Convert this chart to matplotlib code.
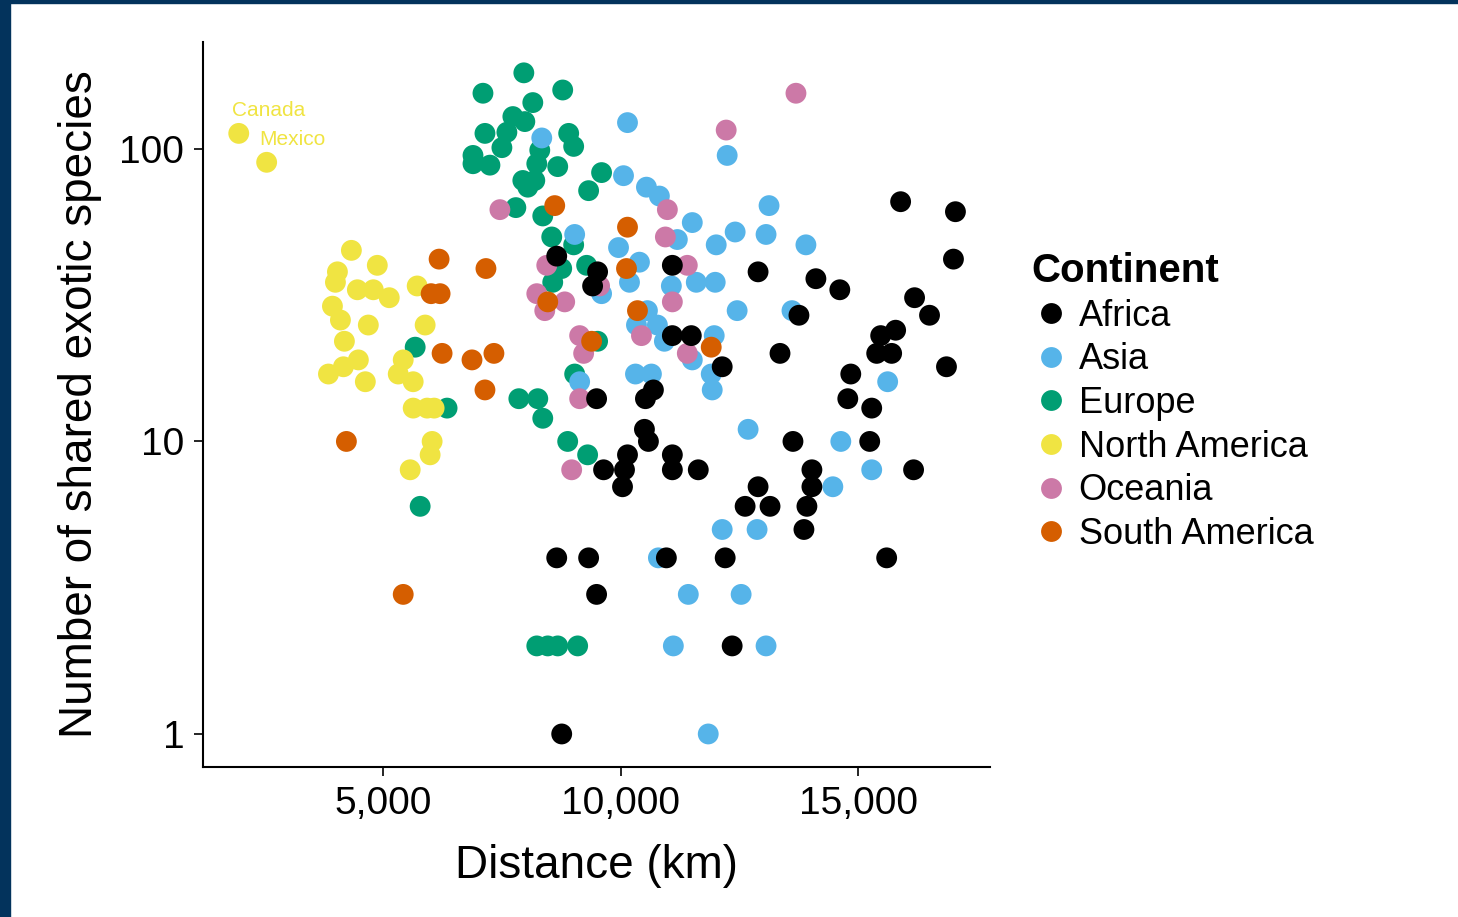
import matplotlib
matplotlib.use("Agg")
import matplotlib.pyplot as plt
from matplotlib.lines import Line2D
from matplotlib.patches import Rectangle
from matplotlib.ticker import FuncFormatter, NullLocator

plt.rcParams['font.family'] = ['Liberation Sans', 'DejaVu Sans']

# Distance (km) and number of shared exotic species, by continent
africa_km = [8652, 9513, 9408, 11088, 12894, 14112, 14616, 15897, 17052, 17010,
             16191, 16506, 13755, 15792, 15477, 15393, 15708, 13356, 16863, 12138,
             11487, 11088, 14847, 14784, 15288, 9492, 10521, 10689, 10500, 10584,
             10143, 11088, 13629, 15246, 9639, 10080, 10038, 11088, 11634, 14028,
             14028, 16170, 12894, 12621, 13146, 13923, 13860, 8652, 9324, 10962,
             12201, 15603, 9492, 12348, 8757]
africa_n = [43, 38, 34, 40, 38, 36, 33, 66, 61, 42,
            31, 27, 27, 24, 23, 20, 20, 20, 18, 18,
            23, 23, 17, 14, 13, 14, 14, 15, 11, 10,
            9, 9, 10, 10, 8, 8, 7, 8, 8, 8,
            7, 8, 7, 6, 6, 6, 5, 4, 4, 4,
            4, 4, 3, 2, 1]

asia_km = [10143, 12243, 8337, 10059, 10542, 10815, 11508, 13125, 12411, 13062,
           13902, 12012, 11193, 9954, 10395, 9030, 10185, 11067, 11592, 11991,
           12453, 13608, 10563, 10332, 10773, 10920, 11970, 11508, 11907, 11928,
           10311, 10647, 9135, 12684, 14637, 9597, 15624, 15288, 14469, 12138,
           12873, 10794, 11424, 12537, 11109, 13062, 11844]
asia_n = [123, 95, 109, 81, 74, 69, 56, 64, 52, 51,
          47, 47, 49, 46, 41, 51, 35, 34, 35, 35,
          28, 28, 28, 25, 25, 22, 23, 19, 17, 15,
          17, 17, 16, 11, 10, 32, 16, 8, 7, 5,
          5, 4, 3, 3, 2, 2, 1]

europe_km = [7959, 7098, 8778, 8148, 7728, 7980, 7140, 8904, 9009, 7497,
             6888, 8295, 7245, 6888, 8232, 8673, 7938, 8190, 8043, 9324,
             9597, 7791, 8358, 8547, 9009, 9282, 8757, 8568, 9513, 9030,
             7854, 8253, 8358, 8883, 9303, 5670, 6342, 5775, 8232, 8463,
             8673, 9093, 7602]
europe_n = [182, 155, 159, 144, 129, 124, 113, 113, 102, 101,
            95, 99, 88, 89, 89, 87, 78, 78, 74, 72,
            83, 63, 59, 50, 47, 40, 39, 35, 22, 17,
            14, 14, 12, 10, 9, 21, 13, 6, 2, 2,
            2, 2, 114]

namerica_km = [1953, 2541, 4326, 4872, 4032, 3990, 4452, 4788, 5124, 5712,
               3927, 4095, 4683, 5880, 4179, 4473, 5418, 4158, 3843, 4620,
               5313, 5628, 5628, 5922, 6069, 6027, 5985, 5565]
namerica_n = [113, 90, 45, 40, 38, 35, 33, 33, 31, 34,
              29, 26, 25, 25, 22, 19, 19, 18, 17, 16,
              17, 16, 13, 13, 13, 10, 9, 8]

oceania_km = [13692, 12222, 7455, 10983, 10941, 8442, 11403, 8232, 8820, 8400,
              9555, 11088, 10437, 9135, 9219, 11403, 9135, 8967]
oceania_n = [155, 116, 62, 62, 50, 40, 40, 32, 30, 28,
             34, 30, 23, 23, 20, 20, 14, 8]

samerica_km = [8610, 10143, 6174, 7161, 10122, 6006, 6195, 6237, 6867, 7329,
               7140, 4221, 5418, 10353, 9387, 11907, 8463]
samerica_n = [64, 54, 42, 39, 39, 32, 32, 20, 19, 20,
              15, 10, 3, 28, 22, 21, 30]

labelled = ['Canada', 'Mexico']

continents = ['Africa', 'Asia', 'Europe', 'North America', 'Oceania', 'South America']
colors = {
    'Africa': '#000000',
    'Asia': '#56B4E9',
    'Europe': '#009E73',
    'North America': '#F0E442',
    'Oceania': '#CC79A7',
    'South America': '#D55E00',
}
series = {
    'Africa': (africa_km, africa_n),
    'Asia': (asia_km, asia_n),
    'Europe': (europe_km, europe_n),
    'North America': (namerica_km, namerica_n),
    'Oceania': (oceania_km, oceania_n),
    'South America': (samerica_km, samerica_n),
}
draw_order = ['Europe', 'North America', 'Asia', 'Oceania', 'South America', 'Africa']

fig = plt.figure(figsize=(14.58, 9.17), dpi=100, facecolor='white')
ax = fig.add_axes([203 / 1458, 1 - 767 / 917, 787 / 1458, 725 / 917])

for name in draw_order:
    xs, ys = series[name]
    ax.scatter(xs, ys, s=225, color=colors[name], edgecolors='none', zorder=3)

# country labels for the two nearest points
for i, lab in enumerate(labelled):
    ax.annotate(lab, (namerica_km[i], namerica_n[i]), xytext=(-5, 16.5),
                textcoords='offset points', ha='left', va='center',
                fontsize=15, color='#F0E442')

ax.set_yscale('log')
ax.set_xlim(1200, 17780)
ax.set_ylim(0.771, 232)
ax.set_yticks([1, 10, 100])
ax.set_yticklabels(['1', '10', '100'])
ax.yaxis.set_minor_locator(NullLocator())
ax.set_xticks([5000, 10000, 15000])
ax.xaxis.set_major_formatter(FuncFormatter(lambda v, p: f'{v:,.0f}'))

for side in ['top', 'right']:
    ax.spines[side].set_visible(False)
for side in ['left', 'bottom']:
    ax.spines[side].set_linewidth(1.5)
ax.tick_params(axis='both', direction='out', length=6.5, width=1.2,
               labelsize=28, colors='black')
ax.tick_params(axis='x', pad=7)
ax.tick_params(axis='y', pad=7)

ax.set_xlabel('Distance (km)', fontsize=33)
ax.set_ylabel('Number of shared exotic species', fontsize=33)
ax.xaxis.set_label_coords(0.5, -0.106)
ax.yaxis.set_label_coords(-0.128, 0.5)

handles = [Line2D([], [], marker='o', linestyle='none', markersize=15,
                  markerfacecolor=colors[c], markeredgecolor='none', label=c)
           for c in continents]
leg = fig.legend(handles=handles, loc='upper left',
                 bbox_to_anchor=(1031 / 1458, 1 - 252 / 917),
                 frameon=False, fontsize=26, title='Continent',
                 title_fontproperties={'size': 29, 'weight': 'bold'},
                 borderpad=0, handlelength=1.1, handletextpad=0.22,
                 labelspacing=0.24, alignment='left', borderaxespad=0)

# navy frame strips along the left and top edges
fig.patches.append(Rectangle((0, 0), 10 / 1458, 1, transform=fig.transFigure,
                             color='#03335C', zorder=10))
fig.patches.append(Rectangle((0, 1 - 3 / 917), 1, 3 / 917, transform=fig.transFigure,
                             color='#03335C', zorder=10))

fig.savefig('out.png', dpi=100, facecolor='white')
